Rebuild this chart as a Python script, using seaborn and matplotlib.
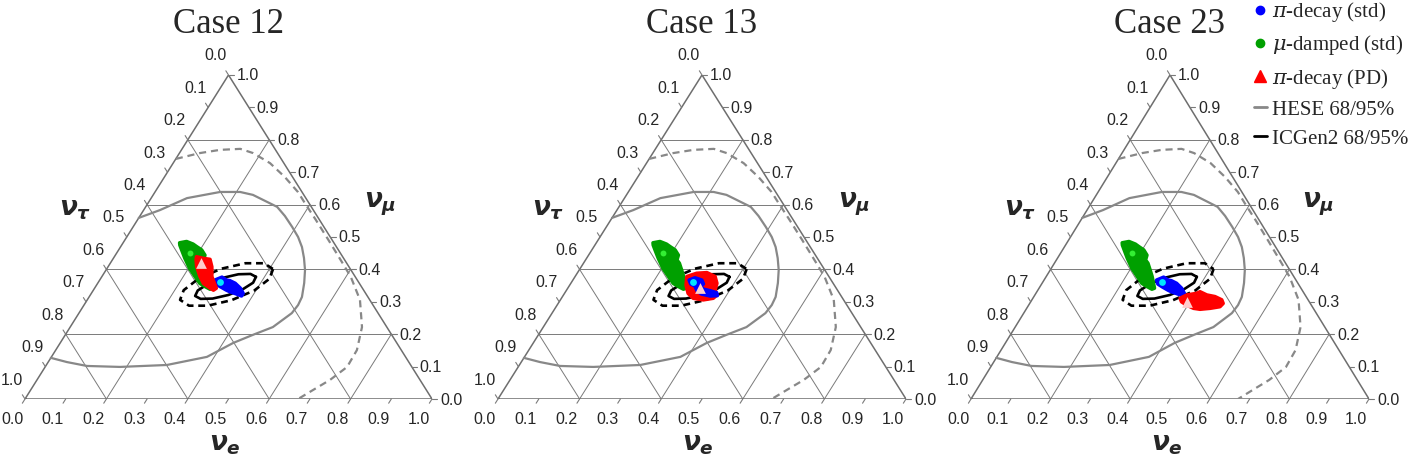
import numpy as np
import seaborn as sns
import matplotlib.pyplot as plt
from matplotlib.lines import Line2D

# flavour fractions as (nu_e, nu_mu); nu_tau = 1 - nu_e - nu_mu
cases = ["Case 12", "Case 13", "Case 23"]
ticks = [0.0, 0.1, 0.2, 0.3, 0.4, 0.5, 0.6, 0.7, 0.8, 0.9, 1.0]
grid_levels = [0.2, 0.4, 0.6, 0.8]

hese68_e = [0.000, 0.040, 0.088, 0.160, 0.209, 0.245, 0.323, 0.356, 0.391, 0.421, 0.446, 0.468,
            0.489, 0.507, 0.523, 0.526, 0.523, 0.498, 0.461, 0.425, 0.382, 0.296, 0.184, 0.101,
            0.046, 0.000]
hese68_mu = [0.559, 0.583, 0.620, 0.639, 0.639, 0.630, 0.593, 0.565, 0.531, 0.500, 0.469, 0.435,
             0.398, 0.358, 0.315, 0.290, 0.265, 0.222, 0.198, 0.173, 0.130, 0.105, 0.099, 0.102,
             0.114, 0.127]
hese95_e = [0.000, 0.050, 0.095, 0.143, 0.181, 0.238, 0.296, 0.351, 0.385, 0.438, 0.500,
            0.570, 0.612, 0.670, 0.717, 0.740, 0.742, 0.720, 0.694, 0.671]
hese95_mu = [0.741, 0.759, 0.769, 0.772, 0.759, 0.728, 0.685, 0.639, 0.605, 0.553, 0.491,
             0.420, 0.377, 0.306, 0.222, 0.151, 0.099, 0.059, 0.028, 0.000]

ic68_e = [0.379, 0.381, 0.366, 0.339, 0.306, 0.277, 0.259, 0.257, 0.272, 0.299, 0.332, 0.361]
ic68_mu = [0.377, 0.359, 0.339, 0.321, 0.310, 0.309, 0.318, 0.335, 0.355, 0.374, 0.385, 0.386]
ic95_e = [0.409, 0.415, 0.396, 0.355, 0.305, 0.259, 0.228, 0.222, 0.241, 0.281, 0.332, 0.378]
ic95_mu = [0.401, 0.371, 0.335, 0.305, 0.288, 0.288, 0.306, 0.336, 0.372, 0.402, 0.419, 0.419]

green_e = [0.139, 0.154, 0.174, 0.187, 0.204, 0.220, 0.224, 0.235, 0.251, 0.266, 0.280, 0.290,
           0.285, 0.269, 0.251, 0.229, 0.203, 0.176, 0.155, 0.143]
green_mu = [0.482, 0.486, 0.478, 0.470, 0.460, 0.444, 0.429, 0.419, 0.398, 0.378, 0.357, 0.342,
            0.339, 0.347, 0.357, 0.378, 0.403, 0.434, 0.460, 0.475]

blue_e = [0.283, 0.296, 0.312, 0.321, 0.338, 0.358, 0.373, 0.373, 0.358, 0.338, 0.327, 0.306, 0.292]
blue_mu = [0.367, 0.376, 0.367, 0.365, 0.357, 0.342, 0.326, 0.318, 0.324, 0.331, 0.336, 0.347, 0.355]
blue13_e = [0.285, 0.296, 0.316, 0.326, 0.321, 0.334, 0.353, 0.372, 0.378, 0.361, 0.337, 0.321, 0.308, 0.295]
blue13_mu = [0.367, 0.374, 0.367, 0.355, 0.349, 0.339, 0.334, 0.328, 0.319, 0.318, 0.324, 0.334, 0.349, 0.355]

red12_e = [0.202, 0.221, 0.239, 0.255, 0.270, 0.291, 0.299, 0.295, 0.284, 0.260, 0.241, 0.218, 0.206]
red12_mu = [0.439, 0.434, 0.431, 0.408, 0.378, 0.352, 0.342, 0.336, 0.342, 0.357, 0.378, 0.408, 0.429]
red13_e = [0.274, 0.293, 0.317, 0.343, 0.358, 0.364, 0.376, 0.372, 0.350, 0.323, 0.303, 0.285]
red13_mu = [0.378, 0.388, 0.390, 0.378, 0.357, 0.336, 0.321, 0.311, 0.306, 0.311, 0.326, 0.352]
red23_e = [0.370, 0.382, 0.404, 0.410, 0.432, 0.455, 0.477, 0.486, 0.483, 0.461, 0.437, 0.419, 0.397, 0.379]
red23_mu = [0.311, 0.321, 0.326, 0.331, 0.321, 0.316, 0.306, 0.295, 0.285, 0.280, 0.277, 0.280, 0.290, 0.300]

mudamp_best = (0.180, 0.450)
pistd_best = (0.299, 0.360)
pd_best_e = [0.222, 0.324, 0.393]
pd_best_mu = [0.419, 0.342, 0.300]

sns.set_style("white")
plt.rcParams['font.family'] = ['Liberation Sans', 'DejaVu Sans']
plt.rcParams['mathtext.fontset'] = 'custom'
plt.rcParams['mathtext.it'] = 'DejaVu Sans:italic:bold'
plt.rcParams['mathtext.rm'] = 'DejaVu Sans:bold'
plt.rcParams['mathtext.bf'] = 'DejaVu Sans:bold'

H = np.sqrt(3) / 2


def tern(e, mu):
    e = np.asarray(e, float)
    mu = np.asarray(mu, float)
    return e + mu / 2, mu * H


def closed(a):
    return np.append(a, a[0])


def blob(ax, e, mu, color, z):
    x, y = tern(e, mu)
    ax.fill(x, y, facecolor=color, edgecolor=color, lw=2.6, joinstyle='round', zorder=z)


reds = [(red12_e, red12_mu), (red13_e, red13_mu), (red23_e, red23_mu)]
blues = [(blue_e, blue_mu), (blue13_e, blue13_mu), (blue_e, blue_mu)]

fig = plt.figure(figsize=(14.14, 4.61), dpi=100)
W, HT = 1414, 461
boxes = [(25, 407), (498, 408), (971, 398)]
gridc = "#7a7a7a"
L = 0.013

for k, (left, width) in enumerate(boxes):
    ax = fig.add_axes([left / W, 62 / HT, width / W, 324 / HT])
    ax.set_xlim(0, 1)
    ax.set_ylim(0, H)
    ax.axis('off')

    # grid
    for v in grid_levels:
        for ee, mm in [([0, 1 - v], [v, v]), ([v, v], [0, 1 - v]), ([1 - v, 0], [0, 1 - v])]:
            x, y = tern(ee, mm)
            ax.plot(x, y, color=gridc, lw=0.7, zorder=1)
    x, y = tern([0, 1, 0, 0], [0, 0, 1, 0])
    ax.plot(x, y, color="#6e6e6e", lw=1.1, zorder=1)

    # ticks and tick labels
    for v in ticks:
        x0, y0 = tern(v, 0)
        ax.plot([x0, x0 - 0.5 * L], [y0, y0 - H * L], color=gridc, lw=0.8, clip_on=False)
        ax.annotate(f"{v:.1f}", (x0, y0), xytext=(-13, -20), textcoords='offset pixels',
                    ha='center', va='center', fontsize=11.5)
        x0, y0 = tern(0, 1 - v)
        ax.plot([x0, x0 - 0.5 * L], [y0, y0 + H * L], color=gridc, lw=0.8, clip_on=False)
        ax.annotate(f"{v:.1f}", (x0, y0), xytext=(-13, 19), textcoords='offset pixels',
                    ha='center', va='center', fontsize=11.5)
        x0, y0 = tern(1 - v, v)
        ax.plot([x0, x0 + L], [y0, y0], color=gridc, lw=0.8, clip_on=False)
        ax.annotate(f"{v:.1f}", (x0, y0), xytext=(8, -1), textcoords='offset pixels',
                    ha='left', va='center', fontsize=11.5)

    ax.text(0.123, 0.505, r"$\nu_\tau$", ha='center', va='center', fontsize=19)
    ax.text(0.872, 0.519, r"$\nu_\mu$", ha='center', va='center', fontsize=19)
    ax.text(0.491, -0.123, r"$\nu_e$", ha='center', va='center', fontsize=19)
    ax.text(0.5, 0.978, cases[k], ha='center', va='baseline', fontsize=25,
            family='Liberation Serif')

    # contours
    x, y = tern(hese68_e, hese68_mu)
    sns.lineplot(x=x, y=y, sort=False, estimator=None, ax=ax, color="#888888", lw=1.6, zorder=3)
    x, y = tern(hese95_e, hese95_mu)
    sns.lineplot(x=x, y=y, sort=False, estimator=None, ax=ax, color="#888888", lw=1.6,
                 linestyle=(0, (3.2, 2.2)), zorder=3)
    x, y = tern(closed(ic68_e), closed(ic68_mu))
    sns.lineplot(x=x, y=y, sort=False, estimator=None, ax=ax, color="black", lw=1.9, zorder=3)
    x, y = tern(closed(ic95_e), closed(ic95_mu))
    sns.lineplot(x=x, y=y, sort=False, estimator=None, ax=ax, color="black", lw=1.9,
                 linestyle=(0, (2.6, 1.8)), zorder=3)

    # flavour regions
    blob(ax, green_e, green_mu, "#00a000", 4)
    if k == 1:
        blob(ax, *reds[k], "#ff0000", 5)
        blob(ax, *blues[k], "#0000ff", 6)
    else:
        blob(ax, *blues[k], "#0000ff", 5)
        blob(ax, *reds[k], "#ff0000", 6)

    # best-fit markers
    x, y = tern([mudamp_best[0]], [mudamp_best[1]])
    sns.scatterplot(x=x, y=y, ax=ax, color="#33ee33", s=18, linewidth=0, zorder=8)
    x, y = tern([pistd_best[0]], [pistd_best[1]])
    sns.scatterplot(x=x, y=y, ax=ax, color="#00e5ff", s=24, linewidth=0, zorder=8)
    x, y = tern([pd_best_e[k]], [pd_best_mu[k]])
    sns.scatterplot(x=x, y=y, ax=ax, color="#ffcccc", marker='^', s=60, linewidth=0, zorder=8)

handles = [
    Line2D([], [], marker='o', color='#0000ff', ls='', ms=6),
    Line2D([], [], marker='o', color='#00a000', ls='', ms=6),
    Line2D([], [], marker='^', color='#ff0000', ls='', ms=9),
    Line2D([], [], color='#888888', lw=2),
    Line2D([], [], color='black', lw=2),
]
labels = [r"$\pi$-decay (std)", r"$\mu$-damped (std)", r"$\pi$-decay (PD)",
          "HESE 68/95%", "ICGen2 68/95%"]
leg = fig.legend(handles, labels, loc='upper left', bbox_to_anchor=(1254 / W, 1.0),
                 frameon=False, handlelength=0.6, handletextpad=0.25, labelspacing=0.45,
                 borderpad=0.0, borderaxespad=0.0,
                 prop={'family': 'Liberation Serif', 'size': 15})
for t in leg.get_texts():
    t.set_math_fontfamily('dejavuserif')

fig.savefig("out.png", dpi=100)
